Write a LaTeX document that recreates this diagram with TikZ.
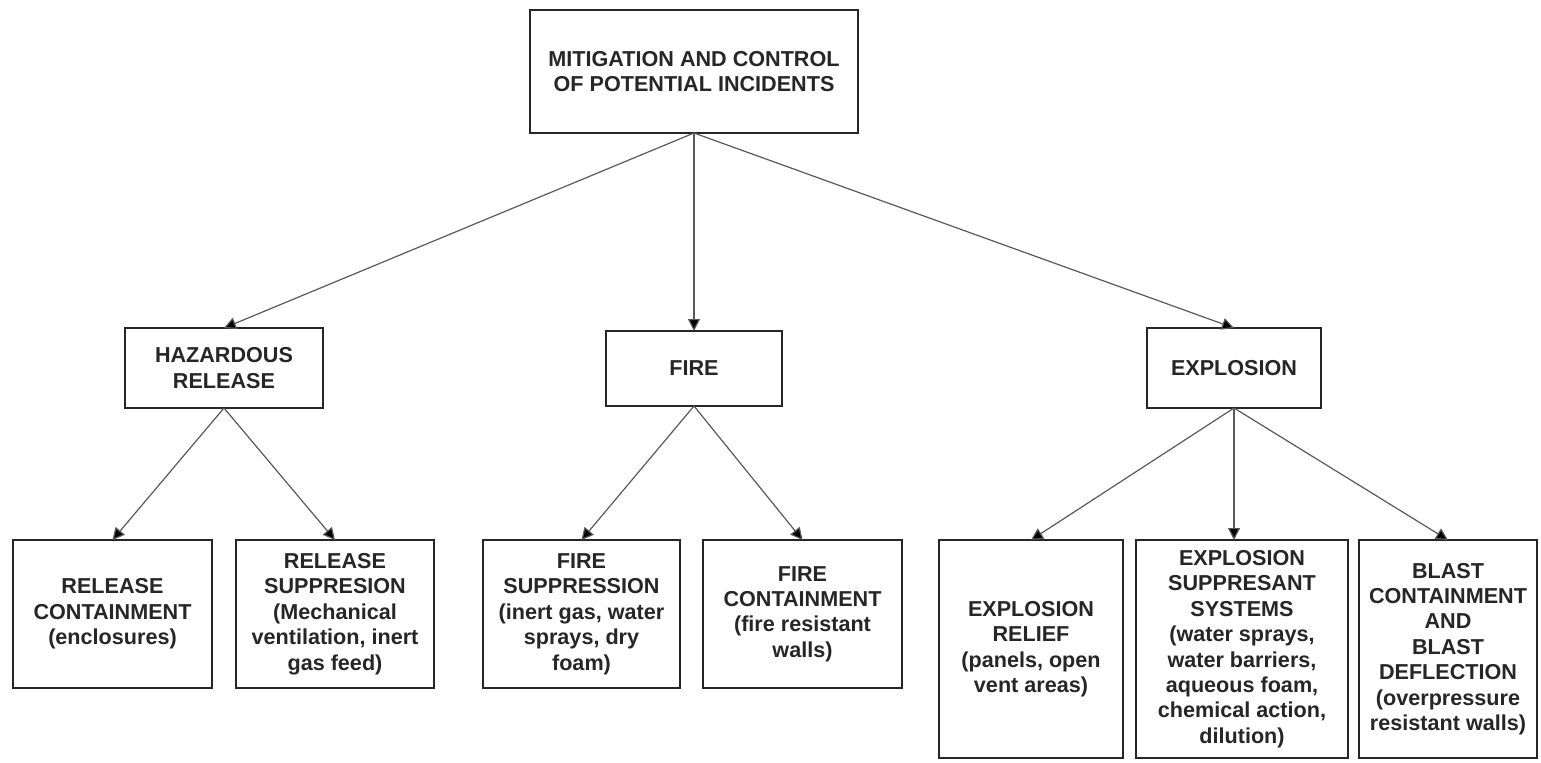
\documentclass[tikz,border=0pt]{standalone}
\usepackage{fontspec}
\setmainfont{Liberation Sans}
\usetikzlibrary{arrows.meta,positioning}

\begin{document}
\begin{tikzpicture}[
	x=0.5pt,y=-0.5pt,
	box/.style={rectangle,draw=black!85,line width=1.3pt,inner sep=0pt,outer sep=0pt,
		align=center,text=black!85,font=\fontsize{10.8}{12.7}\selectfont\bfseries},
	link/.style={draw=black!65,line width=0.6pt,-{Triangle[length=6pt,width=6pt,fill=black]}},
	]
	\useasboundingbox (0,0) rectangle (1541,762);
	\node [box,minimum width=164pt,minimum height=61.5pt] (top) at (694,71.5) {MITIGATION AND CONTROL\\ OF POTENTIAL INCIDENTS};
	% second row
	\node [box,minimum width=99pt,minimum height=40pt] (haz) at (224,368) {HAZARDOUS\\ RELEASE};
	\node [box,minimum width=88pt,minimum height=37.5pt] (fire) at (694,368.5) {FIRE};
	\node [box,minimum width=87pt,minimum height=40pt] (expl) at (1234,368) {EXPLOSION};
	% bottom row
	\node [box,minimum width=99.5pt,minimum height=74pt] (rc) at (112.5,614) {RELEASE\\ CONTAINMENT\\ (enclosures)};
	\node [box,minimum width=99pt,minimum height=74pt,right=12pt of rc] (rs) {RELEASE\\ SUPPRESION\\ (Mechanical\\ ventilation, inert\\ gas feed)};
	\node [box,minimum width=98.5pt,minimum height=74pt] (fs) at (581.5,614) {FIRE\\ SUPPRESSION\\ (inert gas, water\\ sprays, dry\\ foam)};
	\node [box,minimum width=99.5pt,minimum height=74pt,right=11.5pt of fs] (fc) {FIRE\\ CONTAINMENT\\ (fire resistant\\ walls)};
	\node [box,minimum width=92pt,minimum height=109pt] (er) at (1031,649) {EXPLOSION\\ RELIEF\\ (panels, open\\ vent areas)};
	\node [box,minimum width=106pt,minimum height=109pt,right=6.5pt of er] (es) {EXPLOSION\\ SUPPRESANT\\ SYSTEMS\\ (water sprays,\\ water barriers,\\ aqueous foam,\\ chemical action,\\ dilution)};
	\node [box,minimum width=89pt,minimum height=109pt,right=5.5pt of es] (bd) {BLAST\\ CONTAINMENT\\ AND\\ BLAST\\ DEFLECTION\\ (overpressure\\ resistant walls)};

	\draw[link] (top.south) -- (haz.north);
	\draw[link] (top.south) -- (fire.north);
	\draw[link] (top.south) -- (expl.north);
	\draw[link] (haz.south) -- (rc.north);
	\draw[link] (haz.south) -- (rs.north);
	\draw[link] (fire.south) -- (fs.north);
	\draw[link] (fire.south) -- (fc.north);
	\draw[link] (expl.south) -- (er.north);
	\draw[link] (expl.south) -- (expl.south |- es.north);
	\draw[link] (expl.south) -- (bd.north);
\end{tikzpicture}
\end{document}
